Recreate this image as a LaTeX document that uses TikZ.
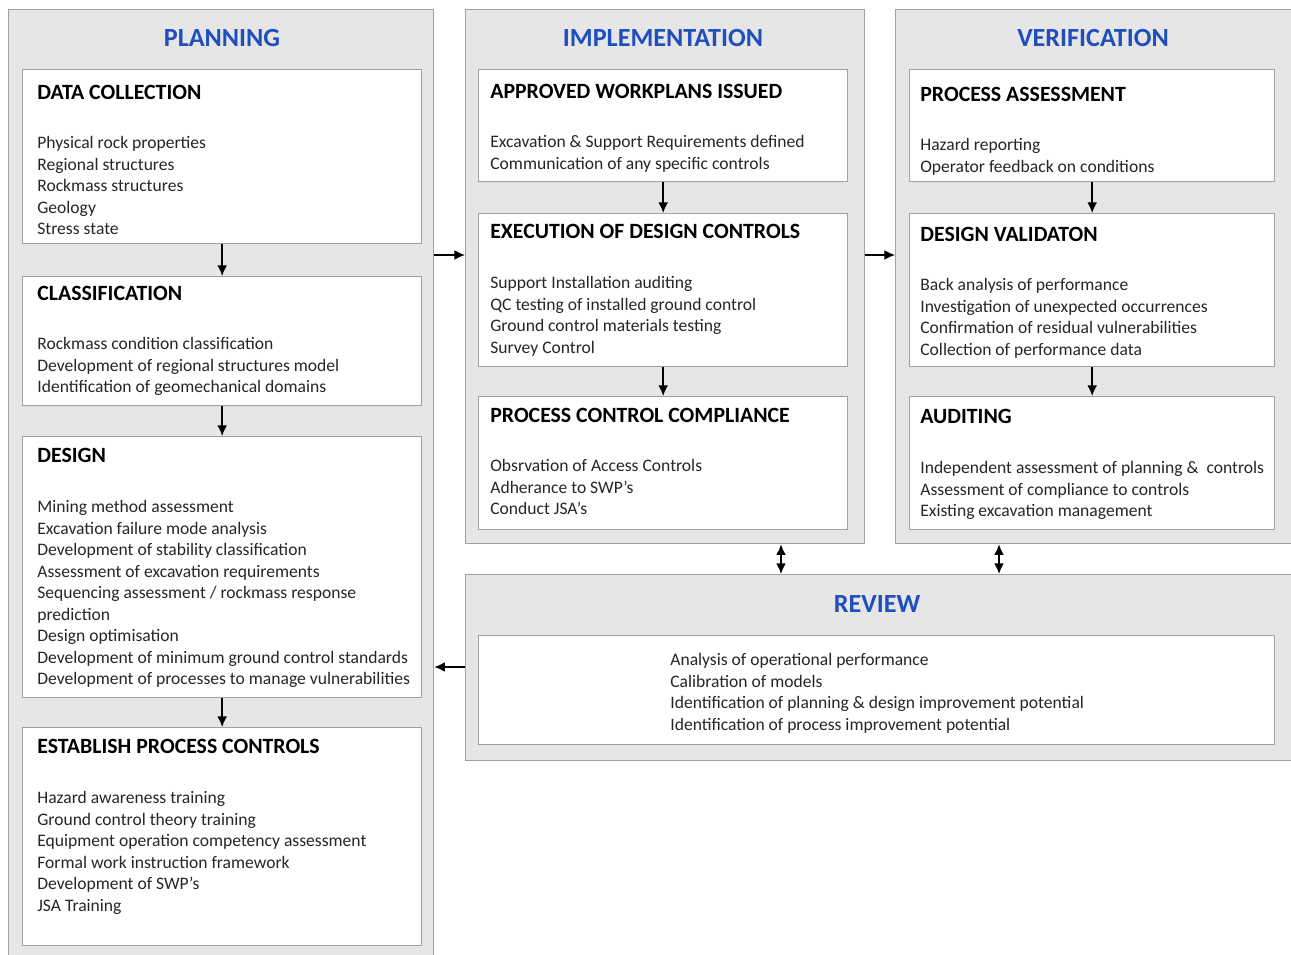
\documentclass[tikz,border=0pt]{standalone}
\usepackage{fontspec}
\setmainfont{Carlito}
\usetikzlibrary{arrows.meta}
\definecolor{panelgray}{RGB}{230,230,230}
\definecolor{linegray}{RGB}{160,160,160}
\definecolor{titleblue}{RGB}{31,78,189}
\definecolor{textgray}{RGB}{38,38,38}
\tikzset{
  panel/.style={draw=linegray, fill=panelgray, line width=0.8pt, anchor=north west, inner sep=0pt},
  box/.style={draw=linegray, fill=white, line width=0.8pt, anchor=north west, inner sep=0pt},
  title/.style={font=\fontsize{14.9}{17}\selectfont\bfseries, text=titleblue},
  head/.style={font=\fontsize{12.4}{14}\selectfont\bfseries, anchor=west, inner sep=0pt},
  body/.style={font=\fontsize{10}{12.25}\selectfont, text=textgray, align=left, anchor=north west, inner sep=0pt},
  arr/.style={-{Latex[length=6pt,width=5.5pt]}, line width=0.8pt},
  dblarr/.style={{Latex[length=6pt,width=5.5pt]}-{Latex[length=6pt,width=5.5pt]}, line width=0.8pt}
}
\begin{document}
\begin{tikzpicture}[x=0.02cm, y=-0.02cm]
  \useasboundingbox (0,0) rectangle (1291,955);
  % Panels
  \node[panel, minimum width=8.5cm, minimum height=19.1cm] (plan) at (8,9) {};
  \node[panel, minimum width=7.98cm, minimum height=10.68cm] (impl) at (465,9) {};
  \node[panel, minimum width=8.1cm, minimum height=10.68cm] (verif) at (895,9) {};
  \node[panel, minimum width=16.7cm, minimum height=3.72cm] (review) at (465,574) {};

  \node[title] (plan-t) at (222,38) {PLANNING};
  \node[title] (impl-t) at (663,38) {IMPLEMENTATION};
  \node[title] (verif-t) at (1093,38) {VERIFICATION};
  \node[title] (review-t) at (877,604) {REVIEW};

  % Planning boxes
  \node[box, minimum width=7.98cm, minimum height=3.48cm] (dc) at (22,69) {};
  \node[box, minimum width=7.98cm, minimum height=2.58cm] (cls) at (22,276) {};
  \node[box, minimum width=7.98cm, minimum height=5.22cm] (des) at (22,436) {};
  \node[box, minimum width=7.98cm, minimum height=4.36cm] (epc) at (22,727) {};

  % Implementation boxes
  \node[box, minimum width=7.38cm, minimum height=2.24cm] (awi) at (478,69) {};
  \node[box, minimum width=7.38cm, minimum height=3.06cm] (edc) at (478,213) {};
  \node[box, minimum width=7.38cm, minimum height=2.66cm] (pcc) at (478,396) {};

  % Verification boxes
  \node[box, minimum width=7.30cm, minimum height=2.24cm] (pa) at (909,69) {};
  \node[box, minimum width=7.30cm, minimum height=3.06cm] (dv) at (909,213) {};
  \node[box, minimum width=7.30cm, minimum height=2.66cm] (aud) at (909,396) {};

  % Review box
  \node[box, minimum width=15.92cm, minimum height=2.18cm] (rev) at (478,635) {};

  % Texts
  \node[head] (dc-h) at ([shift={(15,23)}]dc.north west) {DATA COLLECTION};
  \node[body] (dc-b) at ([shift={(15,67)}]dc.north west) {Physical rock properties\\Regional structures\\Rockmass structures\\Geology\\Stress state};
  \node[head] (cls-h) at ([shift={(15,17)}]cls.north west) {CLASSIFICATION};
  \node[body] (cls-b) at ([shift={(15,61)}]cls.north west) {Rockmass condition classification\\Development of regional structures model\\Identification of geomechanical domains};
  \node[head] (des-h) at ([shift={(15,19)}]des.north west) {DESIGN};
  \node[body] (des-b) at ([shift={(15,64)}]des.north west) {Mining method assessment\\Excavation failure mode analysis\\Development of stability classification\\Assessment of excavation requirements\\Sequencing assessment / rockmass response\\prediction\\Design optimisation\\Development of minimum ground control standards\\Development of processes to manage vulnerabilities};
  \node[head] (epc-h) at ([shift={(15,19)}]epc.north west) {ESTABLISH PROCESS CONTROLS};
  \node[body] (epc-b) at ([shift={(15,64)}]epc.north west) {Hazard awareness training\\Ground control theory training\\Equipment operation competency assessment\\Formal work instruction framework\\Development of SWP's\\JSA Training};

  \node[head] (awi-h) at ([shift={(12,22)}]awi.north west) {APPROVED WORKPLANS ISSUED};
  \node[body] (awi-b) at ([shift={(12,66)}]awi.north west) {Excavation \& Support Requirements defined\\Communication of any specific controls};
  \node[head] (edc-h) at ([shift={(12,18)}]edc.north west) {EXECUTION OF DESIGN CONTROLS};
  \node[body] (edc-b) at ([shift={(12,63)}]edc.north west) {Support Installation auditing\\QC testing of installed ground control\\Ground control materials testing\\Survey Control};
  \node[head] (pcc-h) at ([shift={(12,19)}]pcc.north west) {PROCESS CONTROL COMPLIANCE};
  \node[body] (pcc-b) at ([shift={(12,63)}]pcc.north west) {Obsrvation of Access Controls\\Adherance to SWP's\\Conduct JSA's};

  \node[head] (pa-h) at ([shift={(11,25)}]pa.north west) {PROCESS ASSESSMENT};
  \node[body] (pa-b) at ([shift={(11,69)}]pa.north west) {Hazard reporting\\Operator feedback on conditions};
  \node[head] (dv-h) at ([shift={(11,21)}]dv.north west) {DESIGN VALIDATON};
  \node[body] (dv-b) at ([shift={(11,65)}]dv.north west) {Back analysis of performance\\Investigation of unexpected occurrences\\Confirmation of residual vulnerabilities\\Collection of performance data};
  \node[head] (aud-h) at ([shift={(11,20)}]aud.north west) {AUDITING};
  \node[body] (aud-b) at ([shift={(11,65)}]aud.north west) {Independent assessment of planning \&\ \ controls\\Assessment of compliance to controls\\Existing excavation management};

  \node[body] (rev-b) at (670,653) {Analysis of operational performance\\Calibration of models\\Identification of planning \& design improvement potential\\Identification of process improvement potential};

  % Arrows
  \draw[arr] (dc) -- (cls);
  \draw[arr] (cls) -- (des);
  \draw[arr] (des) -- (epc);
  \draw[arr] (awi) -- (edc);
  \draw[arr] (edc) -- (pcc);
  \draw[arr] (pa) -- (dv);
  \draw[arr] (dv) -- (aud);
  \draw[arr] (plan.east |- 0,255) -- (impl.west |- 0,255);
  \draw[arr] (impl.east |- 0,255) -- (verif.west |- 0,255);
  \draw[arr] (review.west |- 0,667) -- (plan.east |- 0,667);
  \draw[dblarr] (impl.south -| 781,0) -- (review.north -| 781,0);
  \draw[dblarr] (verif.south -| 999,0) -- (review.north -| 999,0);
\end{tikzpicture}
\end{document}
